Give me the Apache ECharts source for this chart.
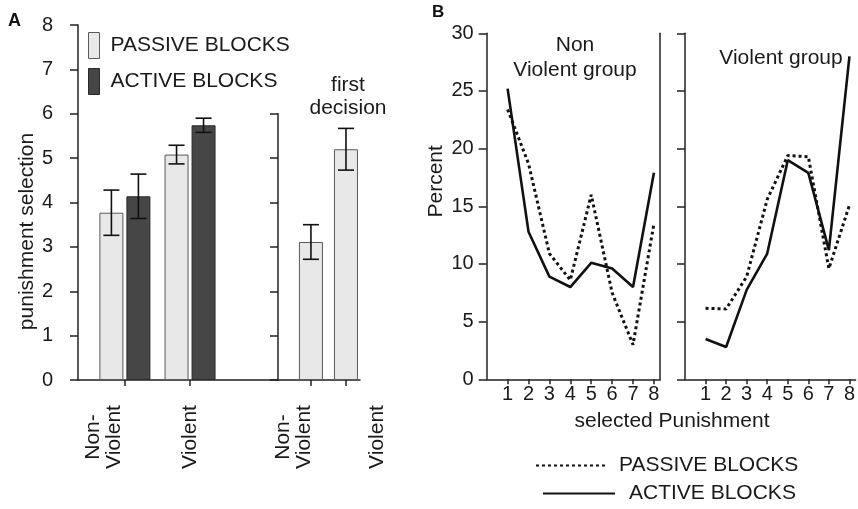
<!DOCTYPE html>
<html>
<head>
<meta charset="utf-8">
<script src="https://cdn.jsdelivr.net/npm/echarts@6/dist/echarts.min.js"></script>
<style>
  html, body { margin: 0; padding: 0; background: #fff; }
  #chart { width: 858px; height: 509px; }
</style>
</head>
<body>
<div id="chart"></div>
<script>
// A: mean punishment selection with error bars
const groups = ['Non-\nViolent', 'Violent'];
const passiveMean = [3.77, 5.08];
const passiveErr = [0.51, 0.21];
const activeMean = [4.14, 5.74];
const activeErr = [0.5, 0.16];
const firstMean = [3.11, 5.2];
const firstErr = [0.39, 0.47];
const selectionTicks = [0, 1, 2, 3, 4, 5, 6, 7, 8];

// B: percent of choices per punishment level
const levels = [1, 2, 3, 4, 5, 6, 7, 8];
const nonViolentPassive = [23.4, 18.7, 10.9, 8.6, 16.0, 7.5, 3.0, 13.5];
const nonViolentActive = [25.2, 12.8, 8.9, 8.0, 10.1, 9.6, 8.0, 17.9];
const violentPassive = [6.15, 6.1, 8.9, 15.6, 19.4, 19.3, 9.6, 15.1];
const violentActive = [3.5, 2.8, 7.75, 10.9, 19.0, 17.9, 11.2, 28.0];
const percentTicks = [0, 5, 10, 15, 20, 25, 30];

const FONT = 'Liberation Sans, Arial, sans-serif';
const INK = '#1a1a1a';
const PASSIVE_FILL = '#e8e8e8';
const ACTIVE_FILL = '#464646';

const pairs = (xs, ys) => ys.map((v, i) => [xs[i], v]);
const groupIdx = groups.map((g, i) => i + 1);

function errorSeries(gi, means, errs, shift) {
  return {
    type: 'custom', xAxisIndex: gi, yAxisIndex: gi, z: 5, silent: true,
    data: means.map((m, i) => [groupIdx[i], m - errs[i], m + errs[i]]),
    renderItem(params, api) {
      const lo = api.coord([api.value(0), api.value(1)]);
      const hi = api.coord([api.value(0), api.value(2)]);
      const x = lo[0] + shift;
      const cap = 8;
      const style = { stroke: '#111', lineWidth: 1.6 };
      return {
        type: 'group', children: [
          { type: 'line', shape: { x1: x, y1: lo[1], x2: x, y2: hi[1] }, style },
          { type: 'line', shape: { x1: x - cap, y1: lo[1], x2: x + cap, y2: lo[1] }, style },
          { type: 'line', shape: { x1: x - cap, y1: hi[1], x2: x + cap, y2: hi[1] }, style }
        ]
      };
    }
  };
}

const axisLine = { show: true, onZero: false, lineStyle: { color: '#222', width: 1.5 } };
const tickStyle = { color: '#222', width: 1.5 };

const groupLabel = labels => ({
  customValues: groupIdx, rotate: 90, align: 'center', verticalAlign: 'middle',
  hideOverlap: false, showMinLabel: true, showMaxLabel: true,
  margin: 57, fontSize: 21, fontFamily: FONT, color: INK, lineHeight: 21,
  formatter: v => labels[v - 1]
});

function groupAxis(gi, min, max, labels) {
  return {
    type: 'value', gridIndex: gi, min, max,
    splitLine: { show: false }, axisLine,
    axisTick: { show: true, customValues: groupIdx, length: 6, lineStyle: tickStyle },
    axisLabel: labels ? groupLabel(labels) : { show: false }
  };
}

function levelAxis(gi) {
  return {
    type: 'value', gridIndex: gi, min: 0, max: 8.3,
    splitLine: { show: false }, axisLine,
    axisTick: { show: true, customValues: levels, length: 5, lineStyle: tickStyle },
    axisLabel: { customValues: levels, margin: 5, fontSize: 20, fontFamily: FONT, color: INK }
  };
}

function valueAxis(gi, ticks, showLabels, extra) {
  return Object.assign({
    type: 'value', gridIndex: gi,
    min: ticks[0], max: ticks[ticks.length - 1], interval: ticks[1] - ticks[0],
    splitLine: { show: false }, axisLine,
    axisTick: { show: true, length: 8, lineStyle: tickStyle },
    axisLabel: { show: showLabels, fontSize: 20, fontFamily: FONT, color: INK, margin: 25 }
  }, extra || {});
}

const lineSeries = (gi, name, vals, dotted) => ({
  type: 'line', name, xAxisIndex: gi, yAxisIndex: gi === 2 ? 2 : 4,
  data: pairs(levels, vals), symbol: 'none', silent: true,
  itemStyle: { color: '#111' },
  lineStyle: dotted ? { color: '#111', width: 3, type: [3, 3] } : { color: '#111', width: 2.6 }
});

const lineLegend = (left, top, name, label, gap) => ({
  left, top, padding: 0, itemWidth: 72, itemHeight: 20, selectedMode: false,
  data: [name], formatter: () => label,
  itemStyle: { opacity: 0 },
  textStyle: { fontSize: 21, color: INK, fontFamily: FONT, padding: [0, 0, 0, gap] }
});

const chart = echarts.init(document.getElementById('chart'));
chart.setOption({
  animation: false,
  textStyle: { fontFamily: FONT },
  grid: [
    { left: 78, top: 25, width: 200, height: 355 },
    { left: 278, top: 113.75, width: 82, height: 266.25 },
    { left: 486.7, top: 33.3, width: 173.5, height: 346 },
    { left: 685, top: 33.3, width: 174, height: 346 },
    // label strip under the first-decision bars
    { left: 278, top: 113.75, width: 120, height: 266.25 }
  ],
  xAxis: [
    groupAxis(0, 0.28, 3.35, groups.map((g, i) => i === 0 ? g + '\n\n' : g)),
    groupAxis(1, 0.06, 2.4, null),
    levelAxis(2),
    levelAxis(3),
    {
      type: 'value', gridIndex: 4, min: 0.807, max: 2.253,
      axisLine: { show: false }, axisTick: { show: false }, splitLine: { show: false },
      axisLabel: groupLabel(groups)
    }
  ],
  yAxis: [
    valueAxis(0, selectionTicks, true, {
      name: 'punishment selection', nameLocation: 'middle', nameGap: 33,
      nameTextStyle: { fontSize: 21, color: INK, fontFamily: FONT, padding: [0, 58, 0, 0] }
    }),
    valueAxis(1, selectionTicks.slice(0, 7), false),
    valueAxis(2, percentTicks, true, {
      name: 'Percent', nameLocation: 'middle', nameGap: 40,
      nameTextStyle: { fontSize: 21, color: INK, fontFamily: FONT, padding: [0, 0, 0, 50] },
      axisLabel: { fontSize: 20, fontFamily: FONT, color: INK, margin: 13 }
    }),
    // right-hand frame line of the non violent plot
    { type: 'value', gridIndex: 2, position: 'right', min: 0, max: 30,
      axisLine, axisTick: { show: false }, axisLabel: { show: false }, splitLine: { show: false } },
    valueAxis(3, percentTicks, false),
    { type: 'value', gridIndex: 4, show: false, min: 0, max: 6 }
  ],
  legend: [
    {
      left: 88, top: 32, padding: 0, orient: 'vertical', itemWidth: 11, itemHeight: 26, itemGap: 9,
      icon: 'rect', selectedMode: false, data: ['PASSIVE BLOCKS', 'ACTIVE BLOCKS'],
      itemStyle: { borderWidth: 1 },
      textStyle: { fontSize: 21, color: INK, fontFamily: FONT, padding: [0, 0, 0, 6] }
    },
    lineLegend(535, 455, 'passive %', 'PASSIVE BLOCKS', 6),
    lineLegend(542, 483, 'active %', 'ACTIVE BLOCKS', 9)
  ],
  series: [
    {
      type: 'bar', name: 'PASSIVE BLOCKS', xAxisIndex: 0, yAxisIndex: 0,
      data: pairs(groupIdx, passiveMean), barWidth: 24, barGap: '12.5%', silent: true,
      itemStyle: { color: PASSIVE_FILL, borderColor: '#5a5a5a', borderWidth: 1 }
    },
    {
      type: 'bar', name: 'ACTIVE BLOCKS', xAxisIndex: 0, yAxisIndex: 0,
      data: pairs(groupIdx, activeMean), barWidth: 24, barGap: '12.5%', silent: true,
      itemStyle: { color: ACTIVE_FILL, borderColor: '#2a2a2a', borderWidth: 1 }
    },
    {
      type: 'bar', name: 'first decision', xAxisIndex: 1, yAxisIndex: 1,
      data: pairs(groupIdx, firstMean), barWidth: 24, silent: true,
      itemStyle: { color: PASSIVE_FILL, borderColor: '#5a5a5a', borderWidth: 1 }
    },
    errorSeries(0, passiveMean, passiveErr, -13.5),
    errorSeries(0, activeMean, activeErr, 13.5),
    errorSeries(1, firstMean, firstErr, 0),
    lineSeries(2, 'passive %', nonViolentPassive, true),
    lineSeries(2, 'active %', nonViolentActive, false),
    lineSeries(3, 'passive %', violentPassive, true),
    lineSeries(3, 'active %', violentActive, false)
  ],
  graphic: [
    { type: 'text', x: 8, y: 21, style: { text: 'A', font: 'bold 18px ' + FONT, fill: '#111', verticalAlign: 'middle' } },
    { type: 'text', x: 432, y: 12, style: { text: 'B', font: 'bold 17px ' + FONT, fill: '#111', verticalAlign: 'middle' } },
    { type: 'text', x: 348, y: 96.5, style: { text: 'first\ndecision', font: '21px ' + FONT, lineHeight: 23, fill: INK, align: 'center', verticalAlign: 'middle' } },
    { type: 'text', x: 575, y: 57.5, style: { text: 'Non\nViolent group', font: '21px ' + FONT, lineHeight: 25, fill: INK, align: 'center', verticalAlign: 'middle' } },
    { type: 'text', x: 781, y: 58, style: { text: 'Violent group', font: '21px ' + FONT, fill: INK, align: 'center', verticalAlign: 'middle' } },
    { type: 'text', x: 672, y: 421, style: { text: 'selected Punishment', font: '21px ' + FONT, fill: INK, align: 'center', verticalAlign: 'middle' } }
  ]
});
</script>
</body>
</html>
